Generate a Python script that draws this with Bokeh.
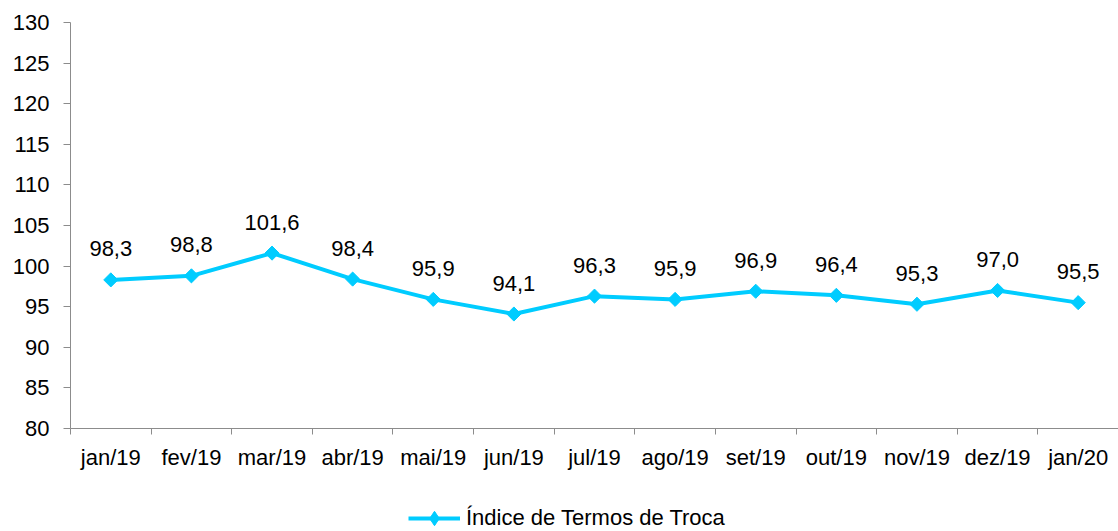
import math
from bokeh.plotting import figure
from bokeh.layouts import column
from bokeh.models import Range1d, FixedTicker, LabelSet, ColumnDataSource, Legend, LegendItem
from bokeh.core.properties import value
from bokeh.embed import file_html
from bokeh.resources import INLINE

categories = ["jan/19", "fev/19", "mar/19", "abr/19", "mai/19", "jun/19", "jul/19",
              "ago/19", "set/19", "out/19", "nov/19", "dez/19", "jan/20"]
values = [98.3, 98.8, 101.6, 98.4, 95.9, 94.1, 96.3, 95.9, 96.9, 96.4, 95.3, 97.0, 95.5]
y_ticks = [80, 85, 90, 95, 100, 105, 110, 115, 120, 125, 130]
series_name = "Índice de Termos de Troca"

FONT = "Liberation Sans"
FS = "22px"
COLOR = "#00CCFF"
AXIS = "#8C8C8C"

xs = [i + 0.5 for i in range(len(categories))]
labels = [f"{v:.1f}".replace(".", ",") for v in values]
src = ColumnDataSource(dict(x=xs, y=values, lab=labels))

p = figure(width=1118, height=490, output_backend="svg", toolbar_location=None,
           x_range=Range1d(0, len(categories)), y_range=Range1d(80, 130),
           min_border_left=70, min_border_right=0, min_border_top=22, min_border_bottom=62)
p.outline_line_color = None
p.grid.visible = False
p.background_fill_color = "white"
p.border_fill_color = "white"

# x axis: labels at centers, tick marks at category boundaries
xa = p.xaxis[0]
xa.ticker = FixedTicker(ticks=xs, minor_ticks=list(range(len(categories) + 1)))
xa.major_label_overrides = {x: c for x, c in zip(xs, categories)}
xa.major_tick_out = 0
xa.major_tick_in = 0
xa.minor_tick_out = 6
xa.minor_tick_in = 0
xa.minor_tick_line_color = AXIS
xa.axis_line_color = AXIS
xa.major_label_standoff = 10
xa.major_label_text_font = FONT
xa.major_label_text_font_size = FS
xa.major_label_text_color = "black"

ya = p.yaxis[0]
ya.ticker = FixedTicker(ticks=y_ticks)
ya.major_tick_out = 7
ya.major_tick_in = 0
ya.minor_tick_out = 0
ya.minor_tick_in = 0
ya.major_tick_line_color = AXIS
ya.axis_line_color = AXIS
ya.major_label_standoff = 14
ya.major_label_text_font = FONT
ya.major_label_text_font_size = FS
ya.major_label_text_color = "black"

p.line("x", "y", source=src, line_color=COLOR, line_width=4)
p.scatter("x", "y", source=src, marker="square", angle=math.pi / 4, size=10,
          fill_color=COLOR, line_color=COLOR)

lbl = LabelSet(x="x", y="y", text="lab", source=src, text_align="center",
               text_baseline="middle", y_offset=31, text_font=value(FONT),
               text_font_size=value(FS), text_color="black")
p.add_layout(lbl)

# legend strip below the chart (its glyph renderers hold the series but lie outside its view)
q = figure(width=1118, height=41, output_backend="svg", toolbar_location=None,
           x_range=Range1d(-100, -99), y_range=Range1d(-100, -99),
           x_axis_type=None, y_axis_type=None,
           min_border_left=0, min_border_right=0, min_border_top=0, min_border_bottom=0)
q.outline_line_color = None
q.grid.visible = False
l_line = q.line("x", "y", source=src, line_color=COLOR, line_width=4)
l_mark = q.scatter("x", "y", source=src, marker="diamond", size=16,
                   fill_color=COLOR, line_color=COLOR)
legend = Legend(items=[LegendItem(label=series_name, renderers=[l_line, l_mark], index=0)],
                location=(338, -5), orientation="horizontal",
                label_text_font=FONT, label_text_font_size=FS,
                label_text_color="black", glyph_width=52, glyph_height=36,
                label_height=20,
                border_line_color=None, background_fill_alpha=0,
                margin=0, padding=0, spacing=0, label_standoff=6)
q.add_layout(legend)

open("out.html", "w").write(file_html(column(p, q, spacing=0), INLINE))
